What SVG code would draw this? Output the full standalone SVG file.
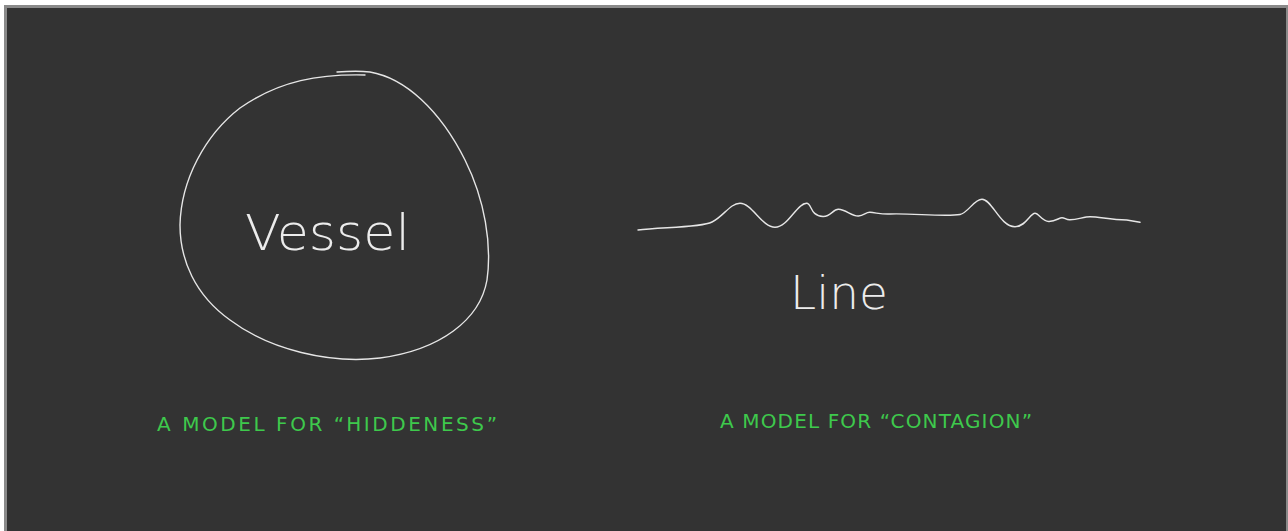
<svg xmlns="http://www.w3.org/2000/svg" width="1288" height="531" viewBox="0 0 1288 531">
  <defs>
    <style>
      .ink { fill: none; stroke: #e6e6e6; stroke-width: 1.4; stroke-linecap: round; stroke-linejoin: round; }
      .word { fill: #ececec; font-family: "DejaVu Sans", "Liberation Sans", sans-serif; font-weight: 200; }
      .note { fill: #3ec94c; font-family: "DejaVu Sans", "Liberation Sans", sans-serif; font-weight: normal; font-size: 20px; }
    </style>
  </defs>

  <!-- board frame -->
  <rect x="0" y="0" width="1288" height="531" fill="#ffffff"/>
  <rect x="4" y="5" width="1284" height="526" fill="#8a8a8a"/>
  <rect x="7" y="8" width="1279" height="523" fill="#333333"/>

  <!-- vessel: closed hand-drawn loop -->
  <g id="vessel">
    <path class="ink" d="M337,72 C350,71 362,71 370,72 C405,78 440,110 465,160 C485,200 492,245 487,280 C480,320 440,350 380,358 C330,364 270,350 230,320 C195,295 180,260 180,225 C181,180 205,135 240,108 C280,80 320,74 365,75"/>
    <text class="word" x="245" y="250" font-size="50" textLength="165" lengthAdjust="spacingAndGlyphs">Vessel</text>
  </g>

  <!-- line: wavy hand-drawn stroke -->
  <g id="line">
    <path class="ink" d="M638,230 C660,227 700,228 712,222 C724,216 730,203.3 740,203.3 C752,203.3 762,227.3 775,227.3 C788,227.3 797,203 806.7,203.3 C812,203.5 810,216 823,216.5 C831,216.8 833,209 838.5,209.3 C846,209.6 852,216.5 858.5,216 C864,215.5 866,212 870,212.3 C876,212.7 882,214.5 890,214 C910,213 945,217 960,214.5 C968,213 974,199.3 982,199.3 C992,199.3 1000,226.7 1015,226.7 C1026,226.7 1030,213.3 1035,213.3 C1039,213.3 1042,221.7 1049,221.5 C1056,221.3 1059,217.7 1062,217.7 C1065,217.7 1066,220 1070,219.8 C1078,219.5 1084,216.7 1090,216.7 C1100,216.7 1110,220 1126.7,220 L1140,222.3"/>
    <text class="word" x="790" y="309" font-size="47" textLength="98" lengthAdjust="spacingAndGlyphs">Line</text>
  </g>

  <!-- captions -->
  <g id="caption-vessel">
    <text class="note" x="157" y="431" textLength="340" lengthAdjust="spacing">A MODEL FOR “HIDDENESS”</text>
  </g>
  <g id="caption-line">
    <text class="note" x="720" y="428" textLength="312" lengthAdjust="spacing">A MODEL FOR “CONTAGION”</text>
  </g>
</svg>
